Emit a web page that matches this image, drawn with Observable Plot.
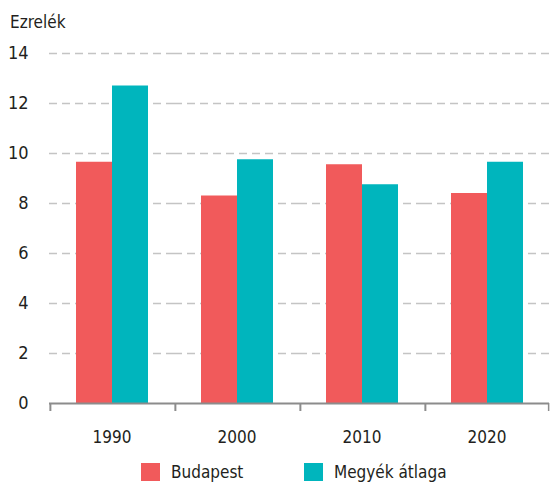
<!DOCTYPE html>
<html><head><meta charset="utf-8">
<script src="https://cdn.jsdelivr.net/npm/d3@7"></script>
<script src="https://cdn.jsdelivr.net/npm/@observablehq/plot@0.6"></script>
<style>
body{margin:0;background:#fff;}
#wrap{position:relative;width:550px;height:483px;font-family:"Liberation Sans Narrow","DejaVu Sans Condensed","Roboto Condensed",sans-serif;font-stretch:condensed;color:#231f20;}
#title{position:absolute;left:10px;top:12px;font-size:17px;line-height:20px;}
#chart{position:absolute;left:0;top:0;}
.item{position:absolute;top:463px;display:flex;align-items:center;font-size:17px;line-height:18px;}
.sw{width:19px;height:18px;margin-right:11px;}
</style></head>
<body>
<div id="wrap">
  <div id="chart"></div>
  <div id="title">Ezrelék</div>
  <div id="legend"></div>
</div>
<script>
const years = ["1990", "2000", "2010", "2020"];
const seriesNames = ["Budapest", "Megyék átlaga"];
const budapest = [9.65, 8.3, 9.55, 8.4];
const megyek = [12.7, 9.75, 8.75, 9.65];
const yTicks = [0, 2, 4, 6, 8, 10, 12, 14];
const colors = ["#F15A5B", "#00B5BD"];

const rows = years.flatMap((y, i) => [
  {year: y, series: seriesNames[0], value: budapest[i]},
  {year: y, series: seriesNames[1], value: megyek[i]}
]);

const W = 550, ML = 48, MR = 1;
const half = (W - ML - MR) / years.length / 2;
const font = '"Liberation Sans Narrow","DejaVu Sans Condensed","Roboto Condensed",sans-serif';
const axisColor = "#8c8c8c";

const chart = Plot.plot({
  width: W, height: 448,
  marginLeft: ML, marginRight: MR, marginTop: 53, marginBottom: 45,
  style: {fontFamily: font, color: "#231f20", background: "transparent"},
  fx: {domain: years, padding: 0, label: null},
  x: {domain: seriesNames, paddingInner: 0, paddingOuter: 0.6926, axis: null},
  y: {domain: [0, 14], axis: null},
  color: {domain: seriesNames, range: colors},
  marks: [
    Plot.ruleY(yTicks.filter(d => d > 0), {stroke: "#c4c4c4", strokeWidth: 1.5, strokeDasharray: "8,5"}),
    Plot.barY(rows, {fx: "year", x: "series", y: "value", fill: "series"}),
    Plot.ruleY([0], {stroke: axisColor, strokeWidth: 2}),
    Plot.ruleX(years, {fx: d => d, x: null, y1: 0, y2: -0.32, dx: -half + 1, stroke: axisColor, strokeWidth: 2}),
    Plot.ruleX(years.slice(-1), {fx: d => d, x: null, y1: 0, y2: -0.32, dx: half - 1, stroke: axisColor, strokeWidth: 1.5}),
    Plot.axisY({ticks: yTicks, tickSize: 0, tickPadding: 21, fontSize: 18, label: null}),
    Plot.axisFx({anchor: "bottom", tickSize: 0, tickPadding: 27, fontSize: 17, label: null})
  ]
});
document.getElementById("chart").appendChild(chart);

const legendX = [141, 304];
const legend = document.getElementById("legend");
seriesNames.forEach((name, i) => {
  const item = document.createElement("div");
  item.className = "item";
  item.style.left = legendX[i] + "px";
  const sw = document.createElement("div");
  sw.className = "sw";
  sw.style.background = colors[i];
  const label = document.createElement("span");
  label.textContent = name;
  item.appendChild(sw);
  item.appendChild(label);
  legend.appendChild(item);
});
</script>
</body></html>
